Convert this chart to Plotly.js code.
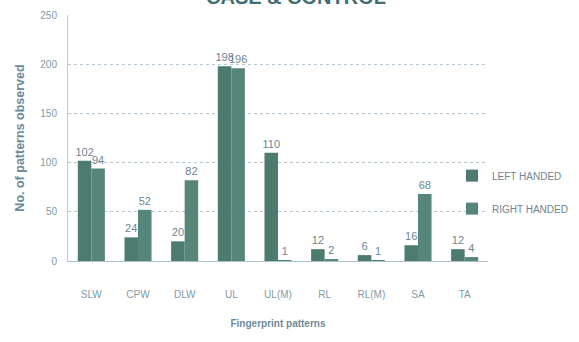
<!DOCTYPE html>
<html><head><meta charset="utf-8">
<script src="https://cdn.plot.ly/plotly-3.0.1.min.js"></script>
<style>html,body{margin:0;padding:0;background:#fff;}#chart{width:579px;height:342px;}</style>
</head><body><div id="chart"></div>
<script>
const categories = ["SLW","CPW","DLW","UL","UL(M)","RL","RL(M)","SA","TA"];
const leftHanded = [102,24,20,198,110,12,6,16,12];
const rightHanded = [94,52,82,196,1,2,1,68,4];
const seriesNames = ["LEFT HANDED","RIGHT HANDED"];
const yTicks = [0,50,100,150,200,250];

const font = "Liberation Sans Narrow, Liberation Sans, Arial, sans-serif";
const labelFont = {size:11, color:"#6d8592", family:font};
const traces = [
  {type:"bar", name:seriesNames[0], x:categories, y:leftHanded, legendgroup:"a",
   marker:{color:"#4d7b70"}, text:leftHanded.map(String), textposition:"outside",
   constraintext:"none", textfont:labelFont, cliponaxis:false},
  {type:"bar", name:seriesNames[1], x:categories, y:rightHanded, legendgroup:"b",
   marker:{color:"#56867a"}, text:rightHanded.map(String), textposition:"outside",
   constraintext:"none", textfont:labelFont, cliponaxis:false}
];
const layout = {
  width:579, height:342,
  margin:{l:68, r:91, t:15, b:81, autoexpand:false},
  paper_bgcolor:"#fff", plot_bgcolor:"#fff",
  bargap:0.42, bargroupgap:0,
  font:{family:font, color:"#7f98a6"},
  title:{text:"<b>CASE &amp; CONTROL</b>", font:{size:20, color:"#3f6f74", family:"Liberation Sans, Arial, sans-serif"},
         x:296/579, xanchor:"center", y:1 - 4/342, yref:"container", yanchor:"bottom"},
  xaxis:{type:"category", showgrid:false, showline:true, linecolor:"#a9bfcc", linewidth:1,
         tickfont:{size:10, color:"#7f9aa8"}, ticks:"", ticklabelstandoff:24,
         title:{text:"<b>Fingerprint patterns</b>", font:{size:10, color:"#6d8a98"}, standoff:20}},
  yaxis:{range:[0,250], tickvals:yTicks, showgrid:true, gridcolor:"#b3c6d2", griddash:"dot", gridwidth:1,
         showline:true, linecolor:"#bccdd8", zeroline:false, ticks:"",
         tickfont:{size:10, color:"#7f9aa8"}, ticklabelstandoff:8,
         title:{text:"<b>No. of patterns observed</b>", font:{size:12.5, color:"#6d8a98"}, standoff:12}},
  legend:{xref:"container", x:452/579, xanchor:"left", y:0.406, yanchor:"top", tracegroupgap:14,
          font:{size:10, color:"#6d8592"}, bgcolor:"rgba(0,0,0,0)", itemwidth:30},
  showlegend:true
};
Plotly.newPlot("chart", traces, layout, {displayModeBar:false, staticPlot:true});
</script></body></html>
